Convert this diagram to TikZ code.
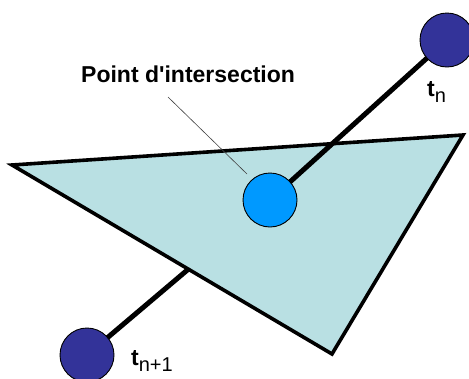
\documentclass[tikz,border=0pt]{standalone}
\usepackage{fontspec}
\setmainfont{Liberation Sans}[Ligatures=TeXOff]
\definecolor{trifill}{RGB}{185,224,227}
\definecolor{darkball}{RGB}{51,51,153}
\definecolor{hitball}{RGB}{0,153,255}
\begin{document}
\begin{tikzpicture}[x=1pt,y=-1pt,
  ray/.style={line width=5pt,black},
  tri/.style={line width=3.6pt,draw=black,fill=trifill,line join=miter},
  ball/.style={circle,draw=black,line width=0.9pt,minimum size=54pt,inner sep=0pt},
  pointer/.style={line width=0.6pt,draw=black!75},
  lbl/.style={inner sep=0pt,anchor=base west,font=\fontsize{23}{24}\selectfont\bfseries}
]
\useasboundingbox (0,0) rectangle (469,378);
\coordinate (pA) at (447,40);
\coordinate (pM) at (270,200);
\coordinate (pB) at (87,355);
\coordinate (T1) at (12,165);
\coordinate (T2) at (463,135);
\coordinate (T3) at (332,354);
% lower part of the ray, behind the triangle
\draw[ray] (pM) -- (pB);
% triangle
\draw[tri] (T1) -- (T2) -- (T3) -- cycle;
% upper part of the ray
\draw[ray] (pM) -- (pA);
% balls
\node[ball,fill=darkball] (A) at (pA) {};
\node[ball,fill=darkball] (B) at (pB) {};
\node[ball,fill=hitball] (M) at (pM) {};
% labels
\node[lbl] (L) at (81,82) {Point d'intersection};
\coordinate (ptrS) at (168,97);
\coordinate (ptrE) at (247,174);
\draw[pointer] (ptrS) -- (ptrE);
\node[lbl] (tn) at (427,96) {t\raisebox{-6pt}{\mdseries\fontsize{20}{20}\selectfont n}};
\node[lbl] (tn1) at (131,365) {t\raisebox{-6pt}{\mdseries\fontsize{20}{20}\selectfont n+1}};
\end{tikzpicture}
\end{document}
